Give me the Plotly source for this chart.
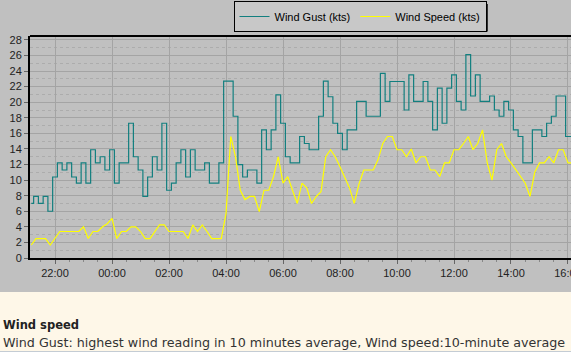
import plotly.graph_objects as go
import pandas as pd

# ---- data (10-minute readings starting 21:10) ----
start_time = "2015-03-01 21:10"
wind_gust = [
    7.0, 7.9, 7.0, 7.9, 6.0, 10.4, 12.2, 11.3, 12.2, 10.4,
    9.6, 12.2, 9.6, 13.9, 12.2, 13.0, 11.3, 13.9, 9.6, 12.2,
    12.2, 17.3, 13.0, 11.3, 7.9, 10.4, 13.0, 11.3, 17.3, 8.7,
    9.6, 12.2, 13.9, 10.4, 13.9, 11.3, 11.3, 12.2, 9.6, 9.6,
    12.2, 22.7, 22.7, 18.2, 12.0, 10.4, 11.3, 11.3, 9.6, 16.45,
    13.9, 16.45, 20.95, 17.3, 13.0, 12.2, 12.2, 15.6, 14.7, 13.9,
    13.9, 18.2, 22.7, 20.7, 17.3, 16.0, 13.9, 16.45, 16.45, 20.1,
    20.1, 18.2, 18.2, 18.2, 23.7, 20.1, 22.66, 22.66, 22.66, 19.0,
    23.5, 20.1, 20.1, 22.66, 20.1, 16.45, 21.8, 17.3, 21.8, 23.5,
    20.1, 19.0, 26.1, 20.8, 23.5, 20.1, 20.1, 20.8, 19.0, 18.2,
    20.1, 19.0, 16.45, 15.6, 12.2, 12.2, 16.45, 16.45, 15.6, 17.3,
    18.2, 20.8, 20.8, 15.6, 15.6,
]
wind_speed = [
    1.67, 2.5, 2.5, 2.5, 1.67, 2.5, 3.4, 3.4, 3.4, 3.4,
    3.4, 4.0, 2.5, 3.4, 3.4, 4.0, 4.4, 5.1, 2.5, 3.4,
    3.4, 4.0, 4.0, 3.4, 2.5, 2.5, 3.4, 4.24, 4.24, 3.4,
    3.4, 3.4, 3.4, 2.5, 4.24, 3.4, 4.24, 3.4, 2.5, 2.5,
    2.5, 5.7, 15.6, 13.0, 8.7, 7.5, 7.9, 7.9, 5.95, 8.7,
    8.7, 10.45, 13.0, 9.6, 10.45, 8.7, 7.0, 9.6, 9.0, 7.0,
    7.9, 8.5, 13.0, 13.9, 13.0, 11.7, 10.45, 9.0, 7.0, 9.5,
    11.3, 11.3, 11.3, 12.6, 14.7, 15.6, 15.6, 13.9, 13.9, 13.0,
    14.0, 12.2, 13.0, 13.0, 11.3, 11.3, 10.45, 12.2, 12.2, 13.9,
    13.9, 14.7, 15.6, 13.9, 14.7, 16.45, 12.2, 10.0, 13.9, 14.7,
    13.0, 12.2, 11.3, 10.45, 9.6, 7.9, 11.0, 12.2, 12.2, 13.0,
    12.2, 13.9, 13.9, 12.2, 12.2,
]
series_names = ["Wind Gust (kts)", "Wind Speed (kts)"]
y_ticks = list(range(0, 29, 2))
x_range = ["2015-03-01 21:07:20", "2015-03-02 16:06:20"]
title_text = "Wind speed"
desc_text = "Wind Gust: highest wind reading in 10 minutes average, Wind speed:10-minute average"

times = pd.date_range(start_time, periods=len(wind_gust), freq="10min")

BG = "#c0c0c0"
CREAM = "#fef7e8"
FONT = "Liberation Sans, Arial, sans-serif"

fig = go.Figure()
fig.add_trace(go.Scatter(x=times, y=wind_gust, mode="lines", name=series_names[0],
                         line=dict(color="#127f7f", width=1.2, shape="hvh")))
fig.add_trace(go.Scatter(x=times, y=wind_speed, mode="lines", name=series_names[1],
                         line=dict(color="#ffff00", width=1.2)))

PLOT_T, PLOT_B, PLOT_L, PLOT_W = 36, 258, 30, 541
PH = PLOT_B - PLOT_T


def py(pix):
    return (PLOT_B - pix) / PH


def px(pix):
    return (pix - PLOT_L) / PLOT_W


fig.update_layout(
    width=571, height=352,
    margin=dict(l=30, r=0, t=36, b=94, autoexpand=False),
    paper_bgcolor=BG, plot_bgcolor=BG,
    font=dict(family=FONT, size=11, color="#111"),
    showlegend=True,
    legend=dict(orientation="h", x=px(360), xanchor="center", y=py(1), yanchor="top",
                bgcolor="#c8c8c8", bordercolor="#000", borderwidth=1,
                font=dict(family=FONT, size=11, color="#000"),
                itemwidth=30, tracegroupgap=0),
    xaxis=dict(type="date", range=x_range, tickformat="%H:%M",
               tick0="2015-03-01 22:00", dtick=7200000,
               ticklabeloverflow="allow", automargin=False,
               showgrid=True, gridcolor="#a4a4a4", gridwidth=1,
               showline=True, linecolor="#000", linewidth=2,
               ticks="outside", ticklen=4, tickcolor="#666",
               minor=dict(dtick=1800000, ticks="outside", ticklen=2, tickcolor="#888", showgrid=False),
               zeroline=False, tickfont=dict(family=FONT, size=11, color="#222")),
    yaxis=dict(range=[0, 28.5], tickvals=y_ticks, automargin=False,
               showgrid=True, gridcolor="#a4a4a4", gridwidth=1,
               showline=True, linecolor="#000", linewidth=2,
               ticks="outside", ticklen=4, tickcolor="#666",
               minor=dict(dtick=1, showgrid=True, gridcolor="#acacac", griddash="dot", ticks=""),
               zeroline=False, tickfont=dict(family=FONT, size=11, color="#222")),
    shapes=[
        dict(type="line", xref="paper", yref="paper", x0=0, x1=1, y0=1, y1=1,
             line=dict(color="#000", width=2)),
        # legend drop shadow
        dict(type="rect", xref="paper", yref="paper", x0=px(238), x1=px(488), y0=py(31.5), y1=py(4),
             fillcolor="#303030", line=dict(width=0)),
        dict(type="rect", xref="paper", yref="paper", x0=px(-5), x1=px(580), y0=py(353), y1=py(292),
             fillcolor=CREAM, line=dict(width=0), layer="above"),
        dict(type="line", xref="paper", yref="paper", x0=px(-5), x1=px(580), y0=py(351.5), y1=py(351.5),
             line=dict(color="#c4ccd4", width=1), layer="above"),
    ],
    annotations=[
        dict(text="<b>" + title_text + "</b>", xref="paper", yref="paper", x=px(1), y=py(325),
             xanchor="left", yanchor="middle", showarrow=False,
             font=dict(family="DejaVu Sans", size=11.5, color="#222")),
        dict(text=desc_text, xref="paper", yref="paper", x=px(1), y=py(342),
             xanchor="left", yanchor="middle", showarrow=False,
             font=dict(family="DejaVu Sans", size=12.7, color="#333")),
    ],
)

fig.write_html("out.html")
